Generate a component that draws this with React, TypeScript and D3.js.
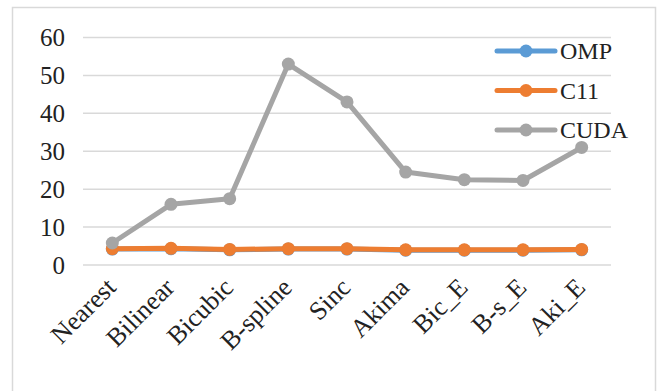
import React from "react";
import * as d3 from "d3";

const categories = ["Nearest", "Bilinear", "Bicubic", "B-spline", "Sinc", "Akima", "Bic_E", "B-s_E", "Aki_E"];
const ompValues = [4.2, 4.3, 4.0, 4.2, 4.2, 3.9, 3.9, 3.9, 4.0];
const c11Values = [4.3, 4.4, 4.1, 4.3, 4.3, 4.0, 4.0, 4.0, 4.1];
const cudaValues = [5.8, 16.0, 17.5, 53.0, 43.0, 24.5, 22.5, 22.3, 31.0];
const yTicks = [0, 10, 20, 30, 40, 50, 60];

const seriesNames = ["OMP", "C11", "CUDA"];
const seriesColors = ["#5B9BD5", "#ED7D31", "#A5A5A5"];
const seriesData = [ompValues, c11Values, cudaValues];

const FONT = "Liberation Serif";

export default function App() {
  const W = 660, H = 391;
  const left = 83, right = 611, top = 37.5, bottom = 265;
  const x = d3.scalePoint<string>().domain(categories).range([left, right]).padding(0.5);
  const y = d3.scaleLinear().domain([0, 60]).range([bottom, top]);
  const line = d3.line<number>().x((_, i) => x(categories[i])!).y((d) => y(d));
  return (
    <svg width={W} height={H} fontFamily={FONT} fontSize={24} style={{ position: "fixed", left: 0, top: 0, background: "#fff" }}>
      <rect x={0} y={0} width={W} height={H} fill="#fff" />
      <rect x={12.5} y={7.5} width={643} height={400} fill="none" stroke="#D9D9D9" strokeWidth={1.5} />
      {yTicks.map((t) => (
        <g key={t}>
          <line x1={left} x2={right} y1={y(t)} y2={y(t)} stroke="#D9D9D9" strokeWidth={1.5} />
          <text x={65} y={y(t)} dy="0.35em" textAnchor="end" fontFamily={FONT} fontSize={25} fill="#222">{t}</text>
        </g>
      ))}
      {categories.map((c) => (
        <text key={c} transform={`translate(${x(c)! + 5},${289}) rotate(-45)`} textAnchor="end" fontFamily={FONT} fontSize={26} fill="#222">{c}</text>
      ))}
      {seriesData.map((data, si) => (
        <g key={si}>
          <path d={line(data)!} fill="none" stroke={seriesColors[si]} strokeWidth={5} strokeLinejoin="round" />
          {data.map((v, i) => (
            <circle key={i} cx={x(categories[i])!} cy={y(v)} r={6.5} fill={seriesColors[si]} />
          ))}
        </g>
      ))}
      {seriesNames.map((n, i) => {
        const ly = 51 + i * 39.5;
        return (
          <g key={n}>
            <line x1={497} x2={555} y1={ly} y2={ly} stroke={seriesColors[i]} strokeWidth={5} strokeLinecap="round" />
            <circle cx={526} cy={ly} r={6.5} fill={seriesColors[i]} />
            <text x={560} y={ly} dy="0.35em" fontFamily={FONT} fontSize={24} fill="#222">{n}</text>
          </g>
        );
      })}
    </svg>
  );
}
